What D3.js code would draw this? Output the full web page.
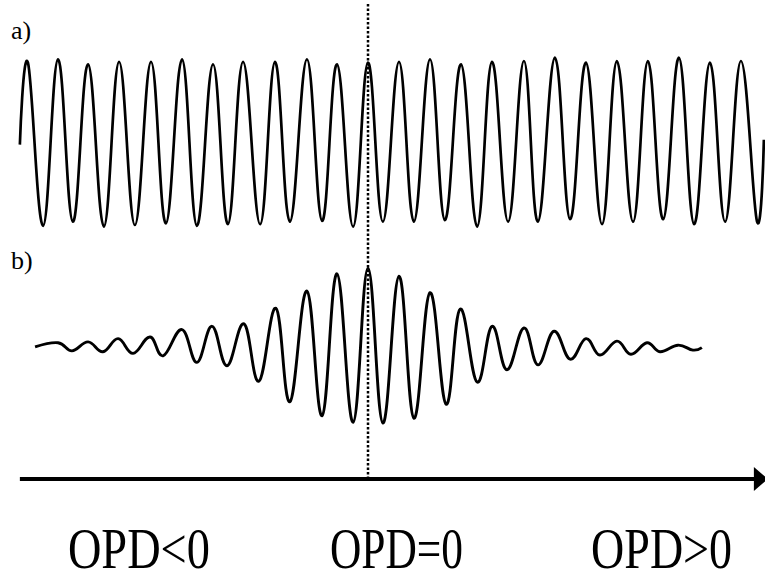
<!DOCTYPE html>
<html>
<head>
<meta charset="utf-8">
<style>
  body { margin: 0; background: #fff; }
  svg { display: block; }
</style>
</head>
<body>
<svg width="765" height="572"></svg>
<script src="https://d3js.org/d3.v7.min.js"></script>
<script>

// Extrema of the fringe patterns.
// OPD in fringe periods (0 = zero path difference), intensity normalised to the central fringe.
var opdA = [-11.23, -10.97, -10.48, -10.00, -9.52, -9.03, -8.52, -8.03, -7.52, -7.00, -6.52, -6.00,
            -5.52, -5.00, -4.52, -4.03, -3.48, -3.00, -2.52, -1.97, -1.48, -1.00, -0.48, 0.00,
            0.48, 1.00, 1.48, 2.00, 2.48, 3.00, 3.52, 4.00, 4.52, 5.03, 5.48, 6.03,
            6.52, 7.03, 7.55, 8.03, 8.55, 9.03, 9.52, 10.03, 10.52, 11.03, 11.52, 12.03,
            12.55, 12.77];
var intensityA = [-0.02, 0.98, -1.01, 1.02, -0.96, 0.96, -1.02, 0.99, -1.00, 0.99, -0.98, 1.02,
                  -1.01, 0.96, -0.99, 0.99, -0.99, 0.99, -0.96, 1.02, -0.95, 0.96, -1.02, 0.98,
                  -0.96, 0.99, -0.96, 1.02, -0.94, 0.96, -1.02, 0.99, -0.96, 1.00, -0.96, 1.04,
                  -0.93, 0.98, -0.99, 1.00, -0.96, 1.00, -0.93, 1.04, -0.99, 0.98, -0.96, 1.00,
                  -0.96, 0.04];

var opdB = [-10.74, -10.00, -9.55, -9.03, -8.55, -8.06, -7.58, -7.03, -6.61, -6.00, -5.52, -5.03,
            -4.55, -4.00, -3.52, -2.97, -2.52, -1.97, -1.48, -1.00, -0.48, 0.00, 0.48, 1.00,
            1.48, 2.00, 2.52, 2.97, 3.52, 4.00, 4.48, 5.03, 5.48, 6.00, 6.52, 7.03,
            7.48, 8.03, 8.48, 9.00, 9.42, 10.00, 10.48, 10.77];
var intensityB = [-0.01, 0.04, -0.06, 0.05, -0.07, 0.09, -0.09, 0.11, -0.12, 0.20, -0.20, 0.24,
                  -0.24, 0.27, -0.43, 0.46, -0.68, 0.67, -0.85, 0.88, -0.93, 0.95, -0.94, 0.85,
                  -0.88, 0.65, -0.71, 0.45, -0.44, 0.24, -0.29, 0.22, -0.23, 0.18, -0.16, 0.09,
                  -0.11, 0.06, -0.10, 0.04, -0.07, 0.01, -0.05, -0.02];

var axisExtent = [-11.23, 12.9];
var opdLabels = ["OPD<0", "OPD=0", "OPD>0"];
var panelLabels = ["a)", "b)"];

var svg = d3.select("svg"),
    serif = "'Liberation Serif', 'Times New Roman', Times, 'DejaVu Serif', serif";

// OPD scale shared by both panels and the axis
var x = d3.scaleLinear().domain([-12, 13]).range([-4, 771]);
var yA = d3.scaleLinear().domain([-1, 1]).range([225, 61]);
var yB = d3.scaleLinear().domain([-1, 1]).range([428, 264]);

// slightly negative tension gives rounder, cosine-like fringe tops
var line = function(y) {
  return d3.line()
      .x(function(d) { return x(d[0]); })
      .y(function(d) { return y(d[1]); })
      .curve(d3.curveCardinal.tension(-0.2));
};

// zero-OPD marker
svg.append("line")
    .attr("x1", x(0)).attr("x2", x(0))
    .attr("y1", 4).attr("y2", 477)
    .attr("stroke", "#000")
    .attr("stroke-width", 2.5)
    .attr("stroke-dasharray", "2.5,2");

// a) monochromatic fringes
svg.append("path")
    .datum(d3.zip(opdA, intensityA))
    .attr("fill", "none")
    .attr("stroke", "#000")
    .attr("stroke-width", 2.7)
    .attr("d", line(yA));

// b) broadband fringe packet
svg.append("path")
    .datum(d3.zip(opdB, intensityB))
    .attr("fill", "none")
    .attr("stroke", "#000")
    .attr("stroke-width", 2.9)
    .attr("d", line(yB));

// OPD axis with arrow
var axisY = 479;
svg.append("line")
    .attr("x1", x(axisExtent[0])).attr("x2", x(axisExtent[1]) - 10)
    .attr("y1", axisY).attr("y2", axisY)
    .attr("stroke", "#000")
    .attr("stroke-width", 4);
var tip = x(axisExtent[1]);
svg.append("path")
    .attr("d", "M" + tip + "," + axisY + "L" + (tip - 14) + "," + (axisY - 12) +
               "L" + (tip - 14) + "," + (axisY + 12) + "Z")
    .attr("fill", "#000");

// panel labels
svg.selectAll(".panel")
    .data(panelLabels)
  .enter().append("text")
    .attr("class", "panel")
    .attr("x", 11)
    .attr("y", function(d, i) { return [39, 269][i]; })
    .style("font-family", serif)
    .style("font-size", "26px")
    .text(function(d) { return d; });

// OPD region labels, squeezed like the original lettering
var labelPos = [-7.39, 0.92, 9.47],
    labelWidth = [142, 133, 141];
svg.selectAll(".opd")
    .data(opdLabels)
  .enter().append("text")
    .attr("class", "opd")
    .attr("x", function(d, i) { return x(labelPos[i]) - labelWidth[i] / 2; })
    .attr("y", 568)
    .attr("textLength", function(d, i) { return labelWidth[i]; })
    .attr("lengthAdjust", "spacingAndGlyphs")
    .style("font-family", serif)
    .style("font-size", "56px")
    .text(function(d) { return d; });

</script>
</body>
</html>
